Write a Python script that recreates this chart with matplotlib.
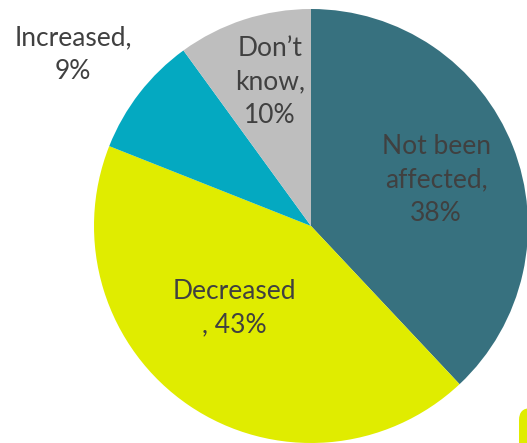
import matplotlib
matplotlib.use("Agg")
import matplotlib.pyplot as plt
from matplotlib.patches import FancyBboxPatch

# Dados do gráfico
categories = ["Not been\naffected,\n38%", "Decreased\n, 43%", "Increased,\n9%", "Don\u2019t\nknow,\n10%"]
values = [38, 43, 9, 10]
colors = ["#37717F", "#E0EC00", "#04A9C1", "#BEBEBE"]

# posições dos rótulos (pixels, origem em baixo à esquerda)
label_pos = [(436, 263), (234, 135), (73, 388), (270, 361)]

plt.rcParams['font.family'] = ['Lato', 'DejaVu Sans']

fig = plt.figure(figsize=(5.27, 4.43), dpi=100)
ax = fig.add_axes([0, 0, 1, 1])

ax.pie(values, colors=colors, startangle=90, counterclock=False,
       center=(311, 217), radius=217, frame=True,
       wedgeprops=dict(linewidth=0))
ax.set_xlim(0, 527)
ax.set_ylim(0, 443)
ax.set_aspect('equal')
ax.axis('off')

for text, (x, y) in zip(categories, label_pos):
    ax.text(x, y, text, ha='center', va='center', fontsize=19,
            color='#404040', linespacing=1.42)

# pedaço de forma amarela no canto inferior direito
ax.add_patch(FancyBboxPatch((519, -20), 40, 55, boxstyle="round,pad=0,rounding_size=12",
                            facecolor="#E0EC00", edgecolor="none"))

fig.savefig("out.png", dpi=100)
